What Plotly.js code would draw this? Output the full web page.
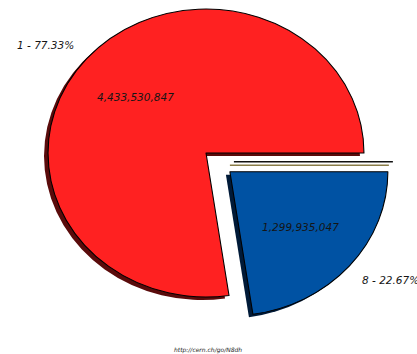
<!DOCTYPE html>
<html>
<head>
<meta charset="utf-8">
<script src="https://cdn.plot.ly/plotly-3.0.1.min.js"></script>
<style>html,body{margin:0;padding:0;background:#fff;}#chart{width:417px;height:354px;}</style>
</head>
<body>
<div id="chart"></div>
<script>
// ---- data ----
const labels = ['8', '1'];
const values = [1299935047, 4433530847];
const valueText = ['1,299,935,047', '4,433,530,847'];
const fillColors = ['#0052a3', '#ff2121'];
const shadowColors = ['#001a38', '#5a0b0b'];
const pulls = [0.2, 0];

// ---- geometry / style ----
const W = 417, H = 354;
const CX = 206, CY = 153, R = 144, SX = 1.097;
const SHX = -4, SHY = 3;
const FONT = 'DejaVu Sans';

const total = values.reduce((a, b) => a + b, 0);
// angles (math convention, degrees), starting at 3 o'clock, going clockwise
let start = 0;
const slices = values.map((v, i) => {
  const sweep = v / total * 360;
  const a0 = start, a1 = start - sweep;
  start = a1;
  const mid = (a0 + a1) / 2 * Math.PI / 180;
  const off = { x: pulls[i] * R * Math.cos(mid), y: -pulls[i] * R * Math.sin(mid) };
  return { mid, off, pct: v / total * 100 };
});

function dom(cx, cy) {
  return { x: [(cx - R) / W, (cx + R) / W], y: [1 - (cy + R) / H, 1 - (cy - R) / H] };
}
function pieTrace(k, colors, lineW, dx, dy) {
  return {
    type: 'pie', values: values, labels: labels, sort: false,
    direction: 'clockwise', rotation: 90, textinfo: 'none', hoverinfo: 'skip',
    showlegend: false,
    marker: {
      colors: values.map((v, i) => i === k ? colors[i] : 'rgba(0,0,0,0)'),
      line: { color: '#000', width: values.map((v, i) => i === k ? lineW : 0) }
    },
    domain: dom(CX + slices[k].off.x + dx, CY + slices[k].off.y + dy)
  };
}

const traces = [];
// shadows first
for (let k = values.length - 1; k >= 0; k--) traces.push(pieTrace(k, shadowColors, 0, SHX / SX, SHY));
for (let k = values.length - 1; k >= 0; k--) traces.push(pieTrace(k, fillColors, 1, 0, 0));

function P(px, py) { return { x: px / W, y: 1 - py / H }; }
const annotations = [];
const shapes = [];
slices.forEach((s, i) => {
  const cx = CX + SX * s.off.x, cy = CY + s.off.y;
  const c = Math.cos(s.mid), sn = Math.sin(s.mid);
  // value inside
  const vp = P(cx + SX * 0.59 * R * c, cy - 0.59 * R * sn);
  annotations.push({ xref: 'paper', yref: 'paper', x: vp.x, y: vp.y, text: valueText[i],
    showarrow: false, xanchor: 'center', yanchor: 'middle',
    font: { family: FONT, size: 10.5, style: 'italic', color: '#151515' } });
  // label outside
  const lp = P(cx + SX * 1.085 * R * c, cy - 1.15 * R * sn);
  annotations.push({ xref: 'paper', yref: 'paper', x: lp.x, y: lp.y,
    text: labels[i] + ' - ' + s.pct.toFixed(2) + '%',
    showarrow: false, xanchor: c < 0 ? 'right' : 'left', yanchor: 'middle',
    font: { family: FONT, size: 10.5, style: 'italic', color: '#151515' } });
  if (pulls[i] > 0) {
    const a = P(cx + 4, cy - 10), b = P(cx + SX * R + 5, cy - 10);
    shapes.push({ type: 'line', xref: 'paper', yref: 'paper', x0: a.x, y0: a.y, x1: b.x, y1: b.y,
      line: { color: '#111', width: 1.5 } });
    const d = P(cx, cy - 6.5), e = P(cx + SX * R + 1, cy - 6.5);
    shapes.push({ type: 'line', xref: 'paper', yref: 'paper', x0: d.x, y0: d.y, x1: e.x, y1: e.y,
      line: { color: '#8a7c48', width: 1.5 } });
  }
});
const up = P(208, 350);
annotations.push({ xref: 'paper', yref: 'paper', x: up.x, y: up.y, text: 'http://cern.ch/go/N8dh',
  showarrow: false, xanchor: 'center', yanchor: 'middle',
  font: { family: FONT, size: 6, style: 'italic', color: '#222' } });

const layout = {
  width: W, height: H, margin: { l: 0, r: 0, t: 0, b: 0 },
  paper_bgcolor: '#fff', plot_bgcolor: '#fff', showlegend: false,
  annotations: annotations, shapes: shapes
};
Plotly.newPlot('chart', traces, layout, { staticPlot: true, displayModeBar: false }).then(() => {
  document.querySelectorAll('.pielayer').forEach(g => {
    const t = g.getAttribute('transform') || '';
    g.setAttribute('transform', 'translate(' + CX + ',0) scale(' + SX + ',1) translate(' + (-CX) + ',0) ' + t);
  });
});
</script>
</body>
</html>
